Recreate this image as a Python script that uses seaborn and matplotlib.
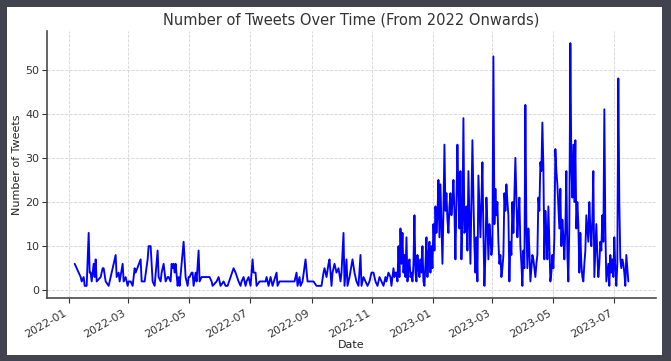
import numpy as np
import pandas as pd
import matplotlib
matplotlib.use("Agg")
import matplotlib.pyplot as plt
import matplotlib.dates as mdates
from matplotlib.patches import Rectangle
import seaborn as sns

# ---- data (days since 2022-01-01 for the sparse 2022 part) ----
days_2022 = [6, 10, 12, 13, 15, 16, 18, 20, 21, 22, 23, 24, 25, 26, 27, 28, 32, 34, 35, 37, 40,
             47, 48, 50, 51, 54, 55, 57, 59, 60, 62, 64, 66, 67, 72, 73, 76, 79, 80, 82, 84, 86,
             89, 90, 92, 93, 95, 97, 99, 100, 102, 103, 104, 105, 106, 107, 109, 110, 111, 115,
             117, 119, 120, 121, 123, 124, 125, 127, 128, 130, 131, 133, 136, 141, 143, 144, 148,
             150, 152, 155, 157, 159, 162, 165, 167, 170, 172, 173, 175, 177, 178, 180, 182, 184,
             185, 187, 188, 191, 197, 198, 200, 202, 204, 208, 209, 211, 218, 226, 228, 229, 231,
             232, 234, 237, 239, 240, 243, 245, 248, 253, 255, 256, 258, 260, 261, 263, 264, 266,
             268, 270, 272, 273, 275, 276, 278, 279, 281, 284, 286, 288, 290, 292, 293, 295, 297,
             299, 301, 303, 305, 307, 309, 311, 313, 315, 317, 318, 320, 322, 323, 325, 326, 327,
             328, 329, 330, 331, 332, 333, 334, 335, 336, 337, 338, 339, 340, 341, 342, 343, 344,
             345, 346, 347, 348, 349, 350, 351, 352, 353, 354, 355, 356, 357, 358, 359, 360, 361,
             362, 363, 364]
tweets_2022 = [6, 4, 3, 2, 3, 1, 1, 13, 4, 4, 2, 4, 6, 3, 7, 2, 3, 5, 5, 2, 1,
               8, 3, 4, 2, 6, 2, 3, 1, 2, 2, 1, 5, 4, 7, 2, 2, 7, 10, 10, 2, 1,
               9, 3, 2, 4, 6, 2, 3, 3, 2, 6, 5, 6, 4, 6, 1, 3, 1, 11,
               3, 1, 3, 3, 4, 4, 1, 4, 2, 9, 2, 3, 3, 3, 2, 1, 2,
               3, 1, 2, 1, 1, 3, 5, 4, 2, 1, 2, 3, 1, 2, 3, 1, 7,
               4, 4, 1, 2, 2, 3, 1, 3, 1, 4, 1, 2, 2, 2, 4, 1, 3,
               1, 2, 7, 2, 2, 2, 2, 1, 1, 4, 5, 3, 6, 7, 1, 4, 6,
               4, 5, 2, 4, 13, 1, 7, 1, 3, 7, 4, 2, 1, 8, 1, 3, 2,
               1, 2, 4, 4, 2, 1, 3, 2, 1, 3, 2, 4, 3, 1, 5, 3, 4,
               4, 2, 10, 3, 14, 6, 13, 4, 8, 3, 12, 2, 5, 7, 3, 4, 2,
               6, 17, 4, 2, 8, 5, 3, 7, 4, 10, 2, 1, 6, 12, 3, 8, 11,
               4, 10, 5]

# daily counts from 2023-01-01
tweets_2023 = [15, 9, 19, 13, 17, 25, 12, 24, 15, 6, 18, 33, 18, 22, 16, 13, 19, 22, 17, 20,
               25, 18, 7, 20, 33, 22, 14, 27, 7, 16, 39, 13, 14, 19, 9, 27, 16, 6, 20, 34,
               21, 10, 4, 12, 2, 26, 19, 12, 20, 29, 13, 1, 8, 21, 15, 7, 15, 12, 8, 10,
               53, 15, 23, 17, 20, 11, 6, 8, 3, 5, 8, 22, 18, 24, 20, 17, 2, 11, 8, 20,
               13, 22, 30, 21, 12, 17, 21, 10, 6, 1, 9, 5, 42, 14, 5, 14, 9, 2, 5, 8,
               7, 5, 3, 6, 8, 21, 18, 29, 27, 38, 28, 7, 18, 13, 7, 19, 10, 2, 4, 8,
               5, 12, 32, 27, 24, 19, 14, 23, 10, 16, 12, 7, 14, 27, 8, 2, 15, 56, 28, 21,
               33, 20, 34, 14, 20, 15, 4, 13, 6, 3, 2, 6, 9, 17, 14, 11, 20, 14, 10, 16,
               27, 3, 9, 15, 8, 3, 6, 11, 9, 17, 11, 41, 14, 2, 4, 6, 1, 8, 4, 7,
               3, 12, 5, 1, 6, 48, 20, 7, 5, 7, 6, 4, 1, 8, 5, 2]

dates = list(pd.Timestamp("2022-01-01") + pd.to_timedelta(days_2022, unit="D")) + \
        list(pd.date_range("2023-01-01", periods=len(tweets_2023), freq="D"))
df = pd.DataFrame({"Date": dates, "Number of Tweets": tweets_2022 + tweets_2023})

# ---- figure ----
sns.set_theme(style="whitegrid")
plt.rcParams["font.family"] = ["DejaVu Sans"]

W, H = 671, 361
fig = plt.figure(figsize=(W / 100, H / 100), dpi=100)
fig.patch.set_facecolor("#41434f")
fig.patches.append(Rectangle((7 / W, 1 - 355 / H), 655 / W, 348 / H, transform=fig.transFigure,
                             facecolor="white", edgecolor="none", zorder=-10))

ax = fig.add_axes([47 / W, 1 - 298 / H, (656 - 47) / W, (298 - 31) / H])
ax.set_zorder(5)
ax.set_facecolor("white")
sns.lineplot(data=df, x="Date", y="Number of Tweets", ax=ax, color="#0000ff",
             linewidth=1.35, estimator=None)

ax.grid(True, linestyle="--", color="#d5d5d5", linewidth=0.6)
for s in ["top", "right"]:
    ax.spines[s].set_visible(False)
for s in ["left", "bottom"]:
    ax.spines[s].set_color("#4a4a4a")
    ax.spines[s].set_linewidth(1.2)

ax.xaxis.set_major_locator(mdates.MonthLocator(bymonth=[1, 3, 5, 7, 9, 11]))
ax.xaxis.set_major_formatter(mdates.DateFormatter("%Y-%m"))
ax.set_yticks([0, 10, 20, 30, 40, 50])
ax.tick_params(axis="both", labelsize=8, colors="#333333", length=3.5, width=0.8,
               bottom=True, left=True)
ax.tick_params(axis="y", pad=2)
for lbl in ax.get_xticklabels():
    lbl.set_rotation(30)
    lbl.set_ha("right")

ax.set_title("Number of Tweets Over Time (From 2022 Onwards)", fontsize=10.5, color="#333333", pad=5)
ax.set_xlabel("Date", fontsize=8, color="#222222", labelpad=0)
ax.set_ylabel("Number of Tweets", fontsize=8, color="#222222", labelpad=2)

fig.savefig("out.png", dpi=100, facecolor=fig.get_facecolor())
